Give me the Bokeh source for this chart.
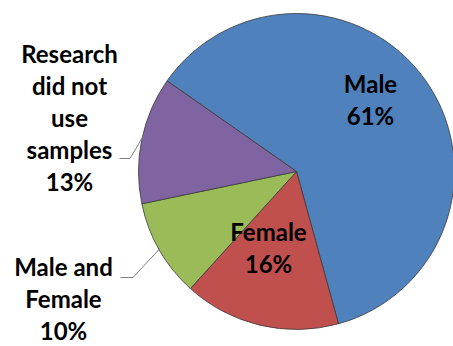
from math import pi
from bokeh.plotting import figure
from bokeh.models import ColumnDataSource, Range1d
from bokeh.core.properties import value
from bokeh.embed import file_html
from bokeh.resources import INLINE

# ---- data ----
categories = ["Male", "Female", "Male and Female", "Research did not use samples"]
display_names = ["Male", "Female", "Male and\nFemale", "Research\ndid not\nuse\nsamples"]
percents = [61, 16, 10, 13]
colors = ["#4F81BD", "#C0504D", "#9BBB59", "#8064A2"]

# ---- layout (screen pixels, y measured from top) ----
W, H = 453, 346
cx, cy, R = 296, 171, 158
start_deg = 145.0
# (center x, first-line baseline y)
label_pos = [(370, 91.5), (268, 240), (63, 275), (69, 62)]
line_step = 32.0
baseline_fix = -9

def Y(py):
    return H - py

total = float(sum(percents))
starts, ends = [], []
a = start_deg * pi / 180
for v in percents:
    b = a - v / total * 2 * pi
    starts.append(b)
    ends.append(a)
    a = b

p = figure(width=W, height=H, output_backend="svg", toolbar_location=None,
           x_range=Range1d(0, W), y_range=Range1d(0, H), min_border=0)
p.axis.visible = False
p.grid.visible = False
p.outline_line_color = None
p.background_fill_color = "white"

src = ColumnDataSource(dict(start=starts, end=ends, color=colors,
                            x=[cx] * 4, y=[Y(cy)] * 4))
p.wedge(x="x", y="y", radius=R, radius_units="screen", start_angle="start",
        end_angle="end", direction="anticlock", fill_color="color",
        line_color="#3a3a3a", line_width=0.8, source=src)

# leader lines
p.line([119, 129.5, 142.5], [Y(158), Y(158), Y(136)], line_color="#7f7f7f", line_width=1)
p.line([120, 132.5, 159.5], [Y(277), Y(277), Y(248)], line_color="#7f7f7f", line_width=1)

xs, ys, ts = [], [], []
for (lx, ly), n, v in zip(label_pos, display_names, percents):
    lines = n.split("\n") + [f"{v}%"]
    for i, t in enumerate(lines):
        xs.append(lx)
        ys.append(Y(ly + baseline_fix + i * line_step))
        ts.append(t)
lsrc = ColumnDataSource(dict(x=xs, y=ys, text=ts))
p.text(x="x", y="y", text="text", source=lsrc, text_align="center", text_baseline="alphabetic",
       text_font=value("Lato"), text_font_style="bold", text_font_size="24px",
       text_color="#000000")

open("out.html", "w").write(file_html(p, INLINE))
